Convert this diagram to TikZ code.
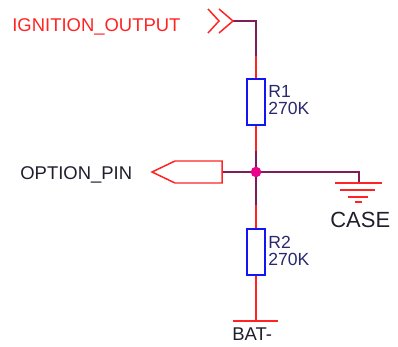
\documentclass[tikz,border=0pt]{standalone}
\usepackage{fontspec}
\setmainfont{Liberation Sans}
\usetikzlibrary{positioning}
\definecolor{netred}{RGB}{255,35,35}
\definecolor{wirepurple}{RGB}{125,30,90}
\definecolor{partblue}{RGB}{20,20,245}
\definecolor{labelnavy}{RGB}{40,40,110}
\definecolor{textdark}{RGB}{30,30,45}
\tikzset{
    wire/.style={wirepurple, line width=0.85pt},
    pin/.style={netred, line width=0.85pt},
    resistor/.style={rectangle, draw=partblue, line width=0.9pt, fill=white, minimum width=0.36cm, minimum height=0.92cm, inner sep=0pt},
    partlabel/.style={labelnavy, font=\fontsize{10}{12}\selectfont, inner sep=0pt, anchor=base west},
    netlabel/.style={textdark, inner sep=0pt, anchor=base west}
}

\begin{document}
\begin{tikzpicture}[x=0.02cm, y=-0.02cm]
    \useasboundingbox (0,0) rectangle (398,347);

    % Parts
    \node[resistor] (R1) at (256,102) {};
    \node[resistor] (R2) at (256,252) {};
    \coordinate (J) at (256,172);
    \coordinate (IN) at (233,21);
    \coordinate (OP) at (222,172);
    \coordinate (GND) at (359,183);
    \coordinate (BAT) at (256,321);

    % Part labels
    \node[partlabel] (R1name) at (268,98) {R1};
    \node[partlabel] (R1value) at (268,115) {270K};
    \node[partlabel] (R2name) at (268,248) {R2};
    \node[partlabel] (R2value) at (268,265) {270K};

    % Pins
    \draw[pin] (R1.north) -- ++(0,-22) coordinate (R1top);
    \draw[pin] (R1.south) -- ++(0,25) coordinate (R1bot);
    \draw[pin] (R2.north) -- ++(0,-23) coordinate (R2top);
    \draw[pin] (R2.south) -- (BAT);

    % Wires
    \draw[wire] (IN) -| (R1top);
    \draw[wire] (R1bot) -- (J);
    \draw[wire] (J) -- (R2top);
    \draw[wire] (OP) -- (J);
    \draw[wire] (J) -| (GND);
    \fill[magenta] (J) circle (3pt);

    % Ports
    \draw[pin] (208,9) -- (219,21) -- (208,33);
    \draw[pin] (219,9) -- (IN) -- (219,33);
    \node[netlabel, netred, font=\fontsize{10.5}{12}\selectfont] (ignition) at (12,32) {IGNITION\_OUTPUT};

    \draw[pin] (OP) -- (222,161) -- (175,161) -- (152,172) -- (175,183) -- (222,183) -- cycle;
    \node[netlabel, font=\fontsize{10.5}{12}\selectfont] (optionpin) at (20,180) {OPTION\_PIN};

    \draw[pin] (335,183) -- (382,183);
    \draw[pin] (340,190) -- (375,190);
    \draw[pin] (348,197) -- (368,197);
    \draw[pin] (355,202) -- (362,202);
    \node[netlabel, font=\fontsize{12.5}{14}\selectfont] (case) at (330,228) {CASE};

    \draw[pin] (233,321) -- (278,321);
    \node[netlabel, font=\fontsize{10.5}{12}\selectfont] (bat) at (232,340) {BAT-};

\end{tikzpicture}
\end{document}
